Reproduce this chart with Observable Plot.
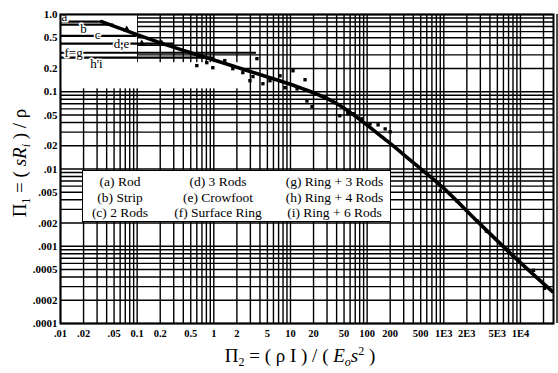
<!DOCTYPE html>
<html><head><meta charset="utf-8">
<script src="https://cdn.jsdelivr.net/npm/d3@7"></script>
<script src="https://cdn.jsdelivr.net/npm/@observablehq/plot@0.6"></script>
<style>
html,body{margin:0;padding:0;background:#fff;}
#chart{position:relative;width:558px;height:373px;overflow:hidden;}
#legend{position:absolute;left:82px;top:170px;width:307px;height:47px;border:1.5px solid #000;background:#fff;
  font-family:"Liberation Serif",serif;font-size:13.5px;color:#000;display:grid;
  grid-template-columns:74px 122px 111px;grid-auto-rows:15.5px;padding-top:3px;box-sizing:content-box;}
#legend span{text-align:center;white-space:nowrap;line-height:15.5px;}
</style></head><body><div id="chart"></div>
<script>
const xTicks = [0.01,0.02,0.05,0.1,0.2,0.5,1,2,5,10,20,50,100,200,500,1000,2000,5000,10000];
const xTickLabels = [".01",".02",".05","0.1","0.2","0.5","1","2","5","10","20","50","100","200","500","1E3","2E3","5E3","1E4"];
const yTicks = [1,0.5,0.2,0.1,0.05,0.02,0.01,0.005,0.002,0.001,0.0005,0.0002,0.0001];
const yTickLabels = ["1.0","0.5","0.2","0.1",".05",".02",".01",".005",".002",".001",".0005",".0002",".0001"];
const gridSteps = [1,2,3,4,5,6,7,8,9];
const xDecades = [0.01,0.1,1,10,100,1000,10000];
const yDecades = [0.0001,0.001,0.01,0.1];

// fitted design curve
const curvePi2 = [0.0344,0.197,0.656,5.4,13.3,40.5,182,376,985,2740,7400,26000];
const curvePi1 = [0.81,0.433,0.294,0.152,0.113,0.070,0.0231,0.0127,0.0057,0.0021,0.00081,0.00026];

// measured points
const pointPi2 = [0.60,0.81,0.97,1.39,1.77,2.39,2.96,3.24,3.65,4.37,5.4,7.3,8.5,10.8,12.2,15.5,16.4,19.1,44,56,66,86,109,139,172,200,900,1500,2740,3600,6560,8100,14800,20600];
const pointPi1 = [0.218,0.238,0.205,0.253,0.199,0.177,0.139,0.157,0.268,0.127,0.139,0.161,0.113,0.187,0.109,0.143,0.076,0.064,0.049,0.052,0.052,0.0446,0.0384,0.0373,0.033,0.0303,0.00518,0.00384,0.00211,0.00157,0.000914,0.000741,0.000488,0.000285];
const triPi2 = [0.073,0.115,0.209];
const triPi1 = [0.64,0.42,0.42];

// horizontal reference levels (a ... i)
const refNames = ["a","b","c","d,e","f=g","h'i"];
const refLevel = [0.81,0.74,0.53,0.42,0.32,0.276];
const refStart = [0.01,0.01,0.01,0.01,0.01,0.01];
const refEnd = [0.0344,0.05,0.10,0.30,3.6,1.03];
const refLabelPi2 = [0.0112,0.02,0.0305,0.0627,0.0148,0.0295];
const refLabelPi1 = [0.94,0.66,0.55,0.42,0.32,0.231];

// blank (gridless) areas of the original drawing
const blankX1 = [0.01,0.1];
const blankX2 = [0.101,2.19];
const blankY1 = [1,0.238];
const blankY2 = [0.109,0.109];

const legendItems = ["(a) Rod","(d) 3 Rods","(g) Ring + 3 Rods",
                     "(b) Strip","(e) Crowfoot","(h) Ring + 4 Rods",
                     "(c) 2 Rods","(f) Surface Ring","(i) Ring + 6 Rods"];

const gridX = xDecades.flatMap(d => gridSteps.map(s => d * s));
const gridY = yDecades.flatMap(d => gridSteps.map(s => d * s)).concat([1]);
const curve = curvePi2.map((x, i) => ({x, y: curvePi1[i]}));
const pts = pointPi2.map((x, i) => ({x, y: pointPi1[i]}));
const tris = triPi2.map((x, i) => ({x, y: triPi1[i]}));
const refs = refNames.map((n, i) => ({n, y: refLevel[i], x1: refStart[i], x2: refEnd[i], lx: refLabelPi2[i], ly: refLabelPi1[i]}));
const blanks = blankX1.map((x1, i) => ({x1, x2: blankX2[i], y1: blankY1[i], y2: blankY2[i]}));
const ff = "'Liberation Serif', serif";

const plot = Plot.plot({
  width: 558, height: 373,
  marginLeft: 60, marginRight: 5, marginTop: 14, marginBottom: 50,
  x: {type: "log", domain: [0.01, 27000], label: null, axis: null},
  y: {type: "log", domain: [0.0001, 1], label: null, axis: null},
  style: {fontFamily: ff, color: "#000", background: "#fff"},
  marks: [
    Plot.ruleX(gridX, {stroke: "#000", strokeWidth: 1.4}),
    Plot.ruleY(gridY, {stroke: "#000", strokeWidth: 1.4}),
    Plot.rect(blanks, {x1: "x1", x2: "x2", y1: "y1", y2: "y2", fill: "#fff"}),
    Plot.ruleY(refs, {y: "y", x1: "x1", x2: "x2", stroke: "#000", strokeWidth: 2.2}),
    Plot.text(refs, {x: "lx", y: "ly", text: "n", fill: "#000", stroke: "#fff", strokeWidth: 3, fontSize: 13, fontFamily: ff}),
    Plot.line(curve, {x: "x", y: "y", stroke: "#000", strokeWidth: 3.6, curve: "catmull-rom"}),
    Plot.dot(pts, {x: "x", y: "y", symbol: "square", r: 1.9, fill: "#000", stroke: "none"}),
    Plot.dot(tris, {x: "x", y: "y", symbol: "triangle", r: 2.6, fill: "#000", stroke: "none"}),
    Plot.frame({stroke: "#000", strokeWidth: 2}),
    Plot.text(xTicks, {x: d => d, text: (d, i) => xTickLabels[i], frameAnchor: "bottom", dy: 13,
      fontWeight: "bold", fontSize: 10.5, fontFamily: ff, fill: "#000"}),
    Plot.text(yTicks, {y: d => d, text: (d, i) => yTickLabels[i], frameAnchor: "left", dx: -3, textAnchor: "end",
      fontWeight: "bold", fontSize: 11, fontFamily: ff, fill: "#000"})
  ]
});

const svg = d3.select(plot);
const xt = svg.append("text").attr("x", 300).attr("y", 362).attr("text-anchor", "middle")
  .attr("font-family", ff).attr("font-size", 19).attr("fill", "#000");
xt.append("tspan").text("\u03A0");
xt.append("tspan").attr("font-size", 12).attr("dy", 4).text("2");
xt.append("tspan").attr("dy", -4).text(" = ( \u03C1 I ) / ( ");
xt.append("tspan").attr("font-style", "italic").text("E");
xt.append("tspan").attr("font-style", "italic").attr("font-size", 12).attr("dy", 4).text("o");
xt.append("tspan").attr("font-style", "italic").attr("dy", -4).text("s");
xt.append("tspan").attr("font-size", 12).attr("dy", -7).text("2");
xt.append("tspan").attr("dy", 7).text(" )");

const yt = svg.append("text").attr("transform", "translate(26,163) rotate(-90)").attr("text-anchor", "middle")
  .attr("font-family", ff).attr("font-size", 19).attr("fill", "#000");
yt.append("tspan").text("\u03A0");
yt.append("tspan").attr("font-size", 12).attr("dy", 4).text("1");
yt.append("tspan").attr("dy", -4).text(" = ( ");
yt.append("tspan").attr("font-style", "italic").text("sR");
yt.append("tspan").attr("font-style", "italic").attr("font-size", 12).attr("dy", 4).text("i");
yt.append("tspan").attr("dy", -4).text(" ) / \u03C1");

const chart = document.getElementById("chart");
chart.appendChild(plot);
const leg = document.createElement("div");
leg.id = "legend";
legendItems.forEach(t => { const s = document.createElement("span"); s.textContent = t; leg.appendChild(s); });
chart.appendChild(leg);
</script></body></html>
